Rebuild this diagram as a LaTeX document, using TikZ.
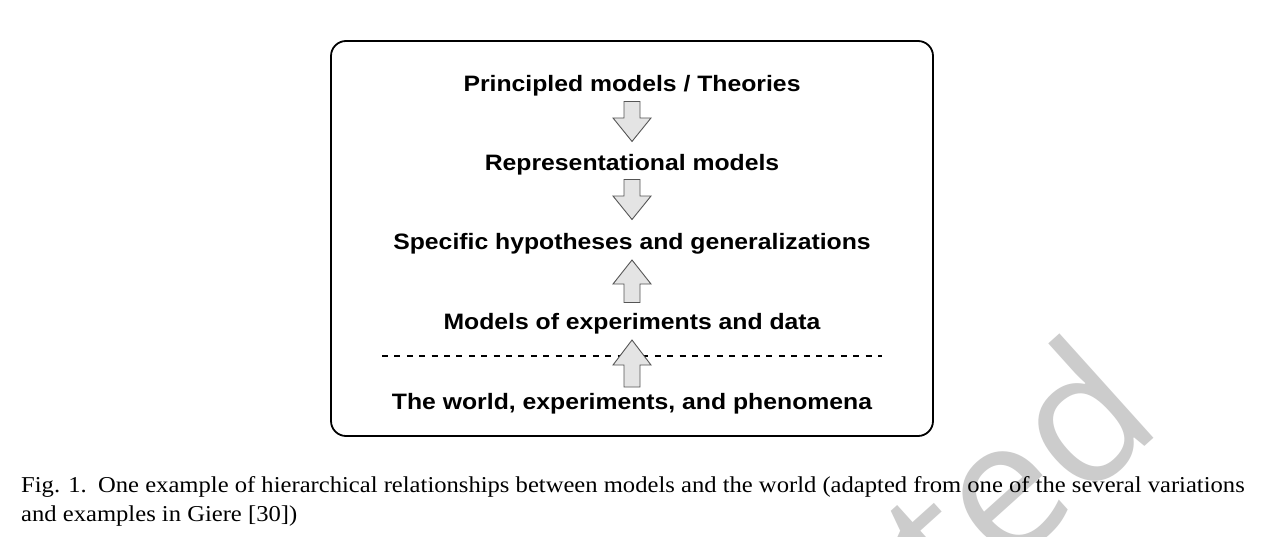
\documentclass[tikz,border=0pt]{standalone}
\usepackage{fontspec}
\newfontfamily\diagfont[FakeStretch=1.11]{Liberation Sans}
\newfontfamily\capfont[FakeStretch=1.084]{Liberation Serif}
\newfontfamily\wmfont{Open Sans}
\usetikzlibrary{calc}
\definecolor{arrowfill}{HTML}{E4E4E4}
\definecolor{arrowline}{HTML}{555555}
\definecolor{wmgray}{HTML}{CCCCCC}
\tikzset{
  level/.style={inner sep=0pt, anchor=base, font=\diagfont\bfseries\fontsize{22.3}{26}\selectfont},
  blk/.style={draw=arrowline, fill=arrowfill, line width=0.9pt, line join=miter},
  frame/.style={draw=black, line width=1.8pt, rounded corners=15pt},
  sep/.style={draw=black, line width=2.6pt, dash pattern=on 6pt off 6.4pt},
  captxt/.style={inner sep=0pt, anchor=base west, font=\capfont\fontsize{22.7}{27}\selectfont},
  wm/.style={inner sep=0pt, text=wmgray, font=\wmfont\fontsize{185}{185}\selectfont}
}
\newcommand\blkdown[1]{% #1 = shift
  \draw[blk, shift={#1}] (-8,-20) -- (8,-20) -- (8,-3.5) -- (19,-3.5) -- (0,20) -- (-19,-3.5) -- (-8,-3.5) -- cycle;}
\newcommand\blkup[4]{% #1 = shift, #2 tip offset, #3 head base offset, #4 bottom offset
  \draw[blk, shift={#1}] (0,#2) -- (19,#3) -- (8,#3) -- (8,#4) -- (-8,#4) -- (-8,#3) -- (-19,#3) -- cycle;}
\begin{document}
\begin{tikzpicture}[x=1pt, y=-1pt]
\useasboundingbox (0,0) rectangle (1265,536);
\fill[white] (0,0) rectangle (1265,536);
% watermark
\begin{scope}
\clip (0,0) rectangle (1265,536);
\node[wm, rotate=42, anchor=base east] (wmark) at (1166,428) {Accepted};
\end{scope}
% frame
\node[frame, minimum width=602pt, minimum height=395pt, inner sep=0pt] (box) at (632,238.5) {};
% levels
\node[level] (t1) at (632,91.7) {Principled models / Theories};
\node[level] (t2) at (632,170) {Representational models};
\node[level] (t3) at (632,249) {Specific hypotheses and generalizations};
\node[level] (t4) at (632,329) {Models of experiments and data};
\node[level] (t5) at (632,409) {The world, experiments, and phenomena};
% separator
\coordinate (sl) at (382,356);
\coordinate (sr) at (882,356);
\draw[sep] (sl) -- (sr);
% arrows
\blkdown{($(t1.base)!0.5!(t2.base)+(0,-9.4)$)}
\blkdown{($(t2.base)!0.5!(t3.base)+(0,-10)$)}
\blkup{($(t3.base)!0.5!(t4.base)+(0,-8)$)}{-21}{3}{21.5}
\blkup{($(t4.base)!0.5!(t5.base)+(0,-5.5)$)}{-23.5}{1.5}{23.5}
% caption
\node[captxt] (cap1) at (21,492) {Fig. 1.\enspace One example of hierarchical relationships between models and the world (adapted from one of the several variations};
\node[captxt] (cap2) at (21,521) {and examples in Giere [30])};
\end{tikzpicture}
\end{document}
